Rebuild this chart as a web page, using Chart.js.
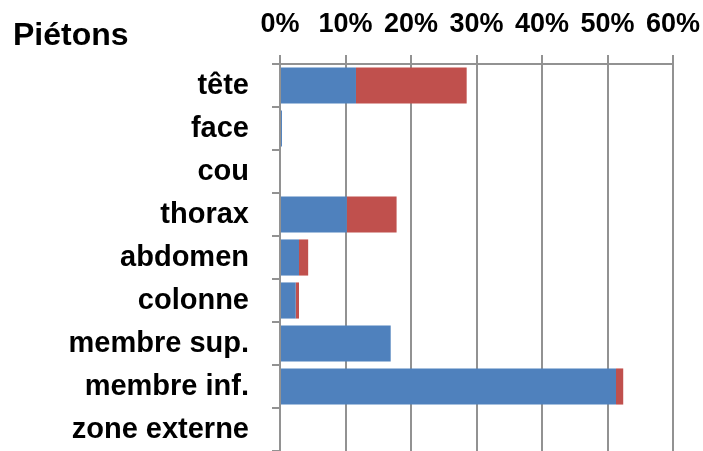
<!DOCTYPE html>
<html><head><meta charset="utf-8">
<script src="https://cdn.jsdelivr.net/npm/chart.js@4/dist/chart.umd.min.js"></script>
<style>html,body{margin:0;padding:0;background:#fff;overflow:hidden}</style>
</head><body>
<canvas id="c" width="703" height="451"></canvas>
<script>
const chartTitle = 'Piétons';
const categories = ['tête', 'face', 'cou', 'thorax', 'abdomen', 'colonne', 'membre sup.', 'membre inf.', 'zone externe'];
const seriesBlue = [11.6, 0.3, 0, 10.2, 2.9, 2.4, 16.9, 51.3, 0];
const seriesRed = [16.9, 0, 0, 7.6, 1.4, 0.5, 0, 1.1, 0];
const xTickValues = [0, 10, 20, 30, 40, 50, 60];

const FONT = '"Liberation Sans", Arial, sans-serif';
const GRID = '#929292';

const titlePlugin = {
  id: 'pageTitle',
  afterDraw(chart, args, opts) {
    const ctx = chart.ctx;
    ctx.save();
    ctx.font = 'bold 32px ' + FONT;
    ctx.fillStyle = '#000';
    ctx.textBaseline = 'alphabetic';
    ctx.textAlign = 'left';
    ctx.fillText(opts.text, 13, 45);
    ctx.restore();
  }
};

new Chart(document.getElementById('c'), {
  type: 'bar',
  data: {
    labels: categories,
    datasets: [
      { label: 'série 1', data: seriesBlue, backgroundColor: '#4F81BD', borderWidth: 0 },
      { label: 'série 2', data: seriesRed, backgroundColor: '#C0504D', borderWidth: 0 }
    ]
  },
  options: {
    indexAxis: 'y',
    responsive: false,
    devicePixelRatio: 1,
    animation: false,
    layout: { padding: { left: 0, right: 30, top: 0, bottom: 0 } },
    plugins: {
      legend: { display: false },
      tooltip: { enabled: false },
      pageTitle: { text: chartTitle }
    },
    datasets: { bar: { categoryPercentage: 1, barPercentage: 0.84 } },
    scales: {
      x: {
        position: 'top',
        stacked: true,
        min: 0,
        max: 60,
        afterBuildTicks(s) { s.ticks = xTickValues.map(v => ({ value: v })); },
        ticks: {
          callback: v => v + '%',
          font: { family: FONT, size: 27, weight: 'bold' },
          color: '#000',
          padding: 14,
          maxRotation: 0
        },
        grid: { color: GRID, lineWidth: 2, tickLength: 9, drawTicks: true },
        border: { color: GRID, width: 2 },
        afterFit(s) { s.height = 64; s.paddingLeft = 0; s.paddingRight = 0; }
      },
      y: {
        stacked: true,
        ticks: {
          font: { family: FONT, size: 29, weight: 'bold' },
          color: '#000',
          padding: 23,
          autoSkip: false
        },
        grid: { drawOnChartArea: false, color: GRID, lineWidth: 2, tickLength: 8, offset: true },
        border: { color: GRID, width: 2 },
        afterFit(s) { s.width = 280; s.paddingTop = 0; s.paddingBottom = 0; }
      }
    }
  },
  plugins: [titlePlugin]
});
</script>
</body></html>
